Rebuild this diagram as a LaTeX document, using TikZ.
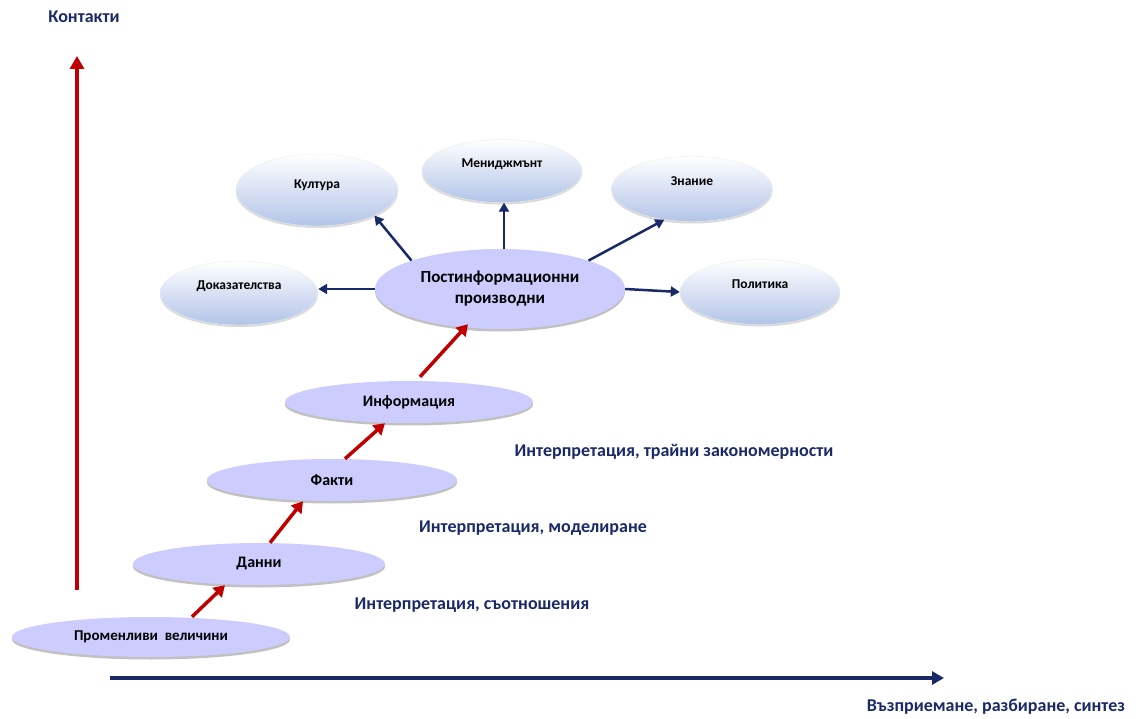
\documentclass[tikz,border=0pt]{standalone}
\usepackage{fontspec}
\setmainfont{Carlito}
\usetikzlibrary{shapes.geometric,arrows.meta,shadows}

\definecolor{navyblue}{RGB}{26,42,104}
\definecolor{darkred}{RGB}{192,0,0}
\definecolor{lavender}{RGB}{204,204,255}
\definecolor{paleblue}{RGB}{178,196,232}

\begin{document}
\begin{tikzpicture}[x=1pt, y=-1pt,
	stage/.style = {ellipse, fill=lavender, inner sep=0pt, minimum width=250pt, minimum height=42pt,
		font=\fontsize{16}{18}\selectfont\bfseries,
		drop shadow={shadow xshift=0pt, shadow yshift=-2.5pt, fill=gray!70, opacity=0.7}},
	outcome/.style = {ellipse, draw=white!85!gray, top color=white, bottom color=paleblue,
		inner sep=0pt, minimum width=160pt, minimum height=64pt, text depth=16pt, text height=9pt,
		font=\fontsize{13.5}{15}\selectfont\bfseries,
		drop shadow={shadow xshift=0pt, shadow yshift=-2pt, fill=gray!50, opacity=0.6}},
	step arrow/.style = {draw=darkred, line width=3.5pt, -{Triangle[length=11pt, width=13pt]}},
	out arrow/.style = {draw=navyblue, line width=2.5pt, -{Triangle[length=9pt, width=10pt]}},
	caption/.style = {text=navyblue, font=\fontsize{18}{21}\selectfont\bfseries}]

	\useasboundingbox (0,0) rectangle (1136,719);

	% axes
	\coordinate (yorig) at (77,590);
	\coordinate (ytop) at (77,56);
	\coordinate (xorig) at (110,678);
	\coordinate (xend) at (944,678);
	\draw[draw=darkred, line width=4pt, -{Triangle[length=13pt, width=14pt]}] (yorig) -- (ytop);
	\draw[draw=navyblue, line width=4pt, -{Triangle[length=12pt, width=13pt]}] (xorig) -- (xend);
	\node[caption] (kontakti) at (84,17) {Контакти};
	\node[caption] (synth) at (996,707) {Възприемане, разбиране, синтез};

	% stages
	\node[stage, minimum width=278pt, minimum height=40pt, font=\fontsize{15}{18}\selectfont\bfseries] (prom) at (151,637) {Променливи\ \ величини};
	\node[stage, minimum width=252pt] (danni) at (259,564) {Данни};
	\node[stage] (fakti) at (332,480) {Факти};
	\node[stage, minimum width=248pt] (info) at (409,402) {Информация};
	\node[stage, minimum height=80pt, font=\fontsize{17}{21}\selectfont\bfseries, align=center] (post) at (500,289)
		{Постинформационни\\производни};

	\draw[step arrow] ([xshift=41pt]prom.north) -- ([xshift=-34pt]danni.south);
	\draw[step arrow] ([xshift=11pt]danni.north) -- ([xshift=-29pt]fakti.south);
	\draw[step arrow] ([xshift=13pt]fakti.north) -- ([xshift=-24pt]info.south);
	\draw[step arrow] ([xshift=11pt,yshift=4pt]info.north) -- ([xshift=-32pt,yshift=5pt]post.south);

	\node[caption] (int1) at (472,605) {Интерпретация, съотношения};
	\node[caption] (int2) at (533,528) {Интерпретация, моделиране};
	\node[caption] (int3) at (674,452) {Интерпретация, трайни закономерности};

	% derived outcomes
	\node[outcome, minimum width=158pt, minimum height=64pt] (dokaz) at (239,293) {Доказателства};
	\node[outcome, minimum width=162pt, minimum height=72pt, text depth=12pt] (kultura) at (317,190) {Култура};
	\node[outcome, minimum height=63pt] (mendj) at (502,171) {Мениджмънт};
	\node[outcome, minimum width=161pt, minimum height=65pt] (znanie) at (692,189) {Знание};
	\node[outcome, minimum height=65pt] (politika) at (760,292) {Политика};

	\draw[out arrow] (post.west) -- (dokaz.east |- post.west);
	\draw[out arrow] (post.north west) -- (kultura.south east);
	\draw[out arrow] ([xshift=4pt]post.north) -- ([xshift=4pt]post.north |- mendj.south);
	\draw[out arrow] (post.north east) -- (znanie.228);
	\draw[out arrow] (post.east) -- (politika.west);

\end{tikzpicture}
\end{document}
